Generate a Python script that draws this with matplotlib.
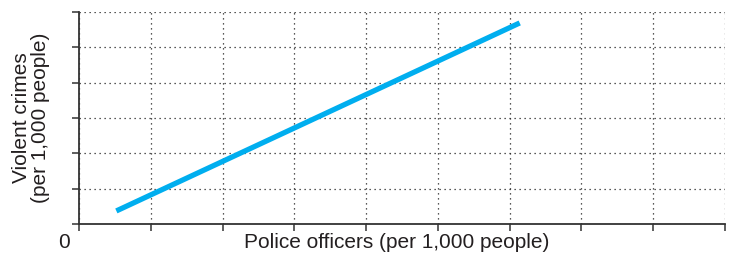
import numpy as np
import matplotlib
matplotlib.use("Agg")
import matplotlib.pyplot as plt

plt.rcParams['font.family'] = ['Liberation Sans', 'DejaVu Sans']

# trend line end points (data units: x ticks 0..9, y ticks 0..6)
officers = [0.52, 6.14]
crimes = [0.37, 5.69]

fig = plt.figure(figsize=(7.29, 2.57), dpi=100)
ax = fig.add_axes([0.1084, 0.1284, 0.8861, 0.8249])

ax.plot(officers, crimes, color="#00aeef", linewidth=3.8, solid_capstyle="butt")

ax.set_xlim(0, 9)
ax.set_ylim(0, 6)
ax.set_xticks(np.arange(0, 10))
ax.set_yticks(np.arange(0, 7))
ax.set_xticklabels([])
ax.set_yticklabels([])
ax.grid(True, linestyle=(0, (1, 3)), color="#222222", linewidth=0.9)

for s in ["top", "right"]:
    ax.spines[s].set_visible(False)
for s in ["left", "bottom"]:
    ax.spines[s].set_color("#333333")
    ax.spines[s].set_linewidth(1.3)
ax.tick_params(direction="out", length=5, width=1.1, color="#333333")

txt = "#231f20"
fs = 15
fig.text(397 / 729, 1 - 243 / 257, "Police officers (per 1,000 people)", fontsize=fs,
         color=txt, ha="center", va="center")
fig.text(31 / 729, 1 - 118 / 257, "Violent crimes\n(per 1,000 people)", fontsize=fs,
         color=txt, ha="center", va="center", rotation=90, linespacing=1.05,
         multialignment="center")
fig.text(64 / 729, 1 - 243 / 257, "0", fontsize=fs, color=txt, ha="center", va="center")

fig.savefig("out.png", dpi=100)
